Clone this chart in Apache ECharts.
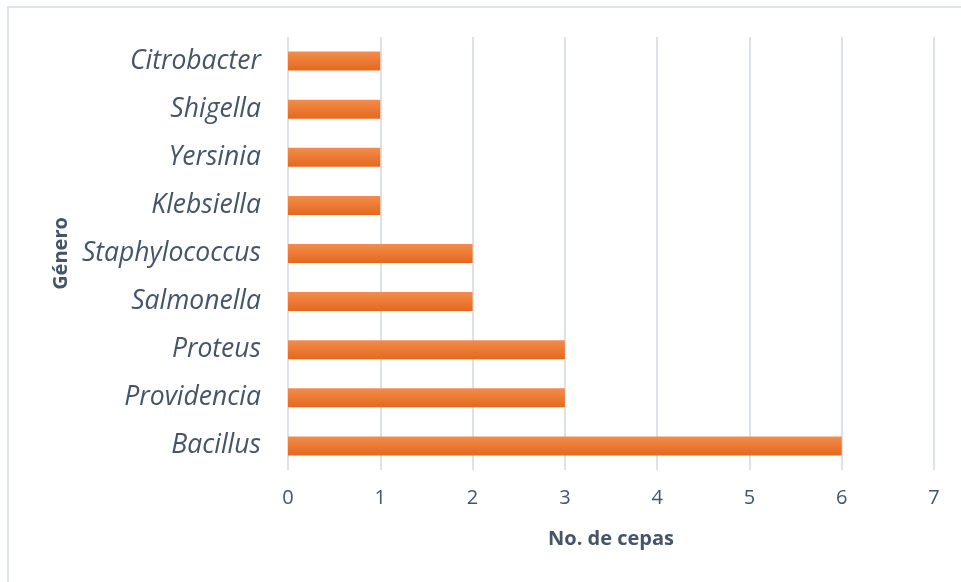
<!DOCTYPE html>
<html>
<head>
<meta charset="utf-8">
<script src="https://cdn.jsdelivr.net/npm/echarts@6/dist/echarts.min.js"></script>
<style>
  html, body { margin: 0; padding: 0; background: #fff; }
  #chart { width: 961px; height: 582px; }
</style>
</head>
<body>
<div id="chart"></div>
<script>
// Genera, listed bottom to top as drawn on the category axis
const generos = ['Bacillus', 'Providencia', 'Proteus', 'Salmonella', 'Staphylococcus',
                 'Klebsiella', 'Yersinia', 'Shigella', 'Citrobacter'];
// Number of strains per genus
const cepas = [6, 3, 3, 2, 2, 1, 1, 1, 1];
// Value axis ticks
const ejeMin = 0;
const ejeMax = 7;
const ejeIntervalo = 1;

const textColor = '#44546a';
const font = '"Open Sans", sans-serif';

const chart = echarts.init(document.getElementById('chart'), null, { renderer: 'canvas' });

chart.setOption({
  backgroundColor: '#ffffff',
  animation: false,
  graphic: [{
    type: 'rect',
    silent: true,
    shape: { x: 8, y: 7, width: 1000, height: 1000 },
    style: { fill: 'none', stroke: '#dfe3ea', lineWidth: 2 }
  }],
  grid: { left: 288, right: 27, top: 37, bottom: 112, containLabel: false },
  xAxis: {
    type: 'value',
    min: ejeMin,
    max: ejeMax,
    interval: ejeIntervalo,
    name: 'No. de cepas',
    nameLocation: 'middle',
    nameGap: 59,
    nameTextStyle: { color: textColor, fontSize: 20, fontWeight: 'bold', fontFamily: font },
    axisLine: { show: false },
    axisTick: { show: false },
    axisLabel: { color: textColor, fontSize: 20, fontFamily: font, margin: 18 },
    splitLine: { show: true, lineStyle: { color: '#dde1ea', width: 2 } }
  },
  yAxis: {
    type: 'category',
    data: generos,
    name: 'Género',
    nameLocation: 'middle',
    nameGap: 213,
    nameRotate: 90,
    nameTextStyle: { color: textColor, fontSize: 20, fontWeight: 'bold', fontFamily: font },
    axisLine: { show: false },
    axisTick: { show: false },
    axisLabel: {
      color: textColor, fontSize: 26.5, fontStyle: 'italic', fontFamily: font,
      margin: 27, padding: [4, 0, 0, 0]
    }
  },
  series: [{
    type: 'bar',
    data: cepas,
    barWidth: 19,
    itemStyle: {
      color: new echarts.graphic.LinearGradient(0, 0, 0, 1, [
        { offset: 0, color: '#f28c4e' },
        { offset: 1, color: '#e5681c' }
      ])
    }
  }]
});
</script>
</body>
</html>
